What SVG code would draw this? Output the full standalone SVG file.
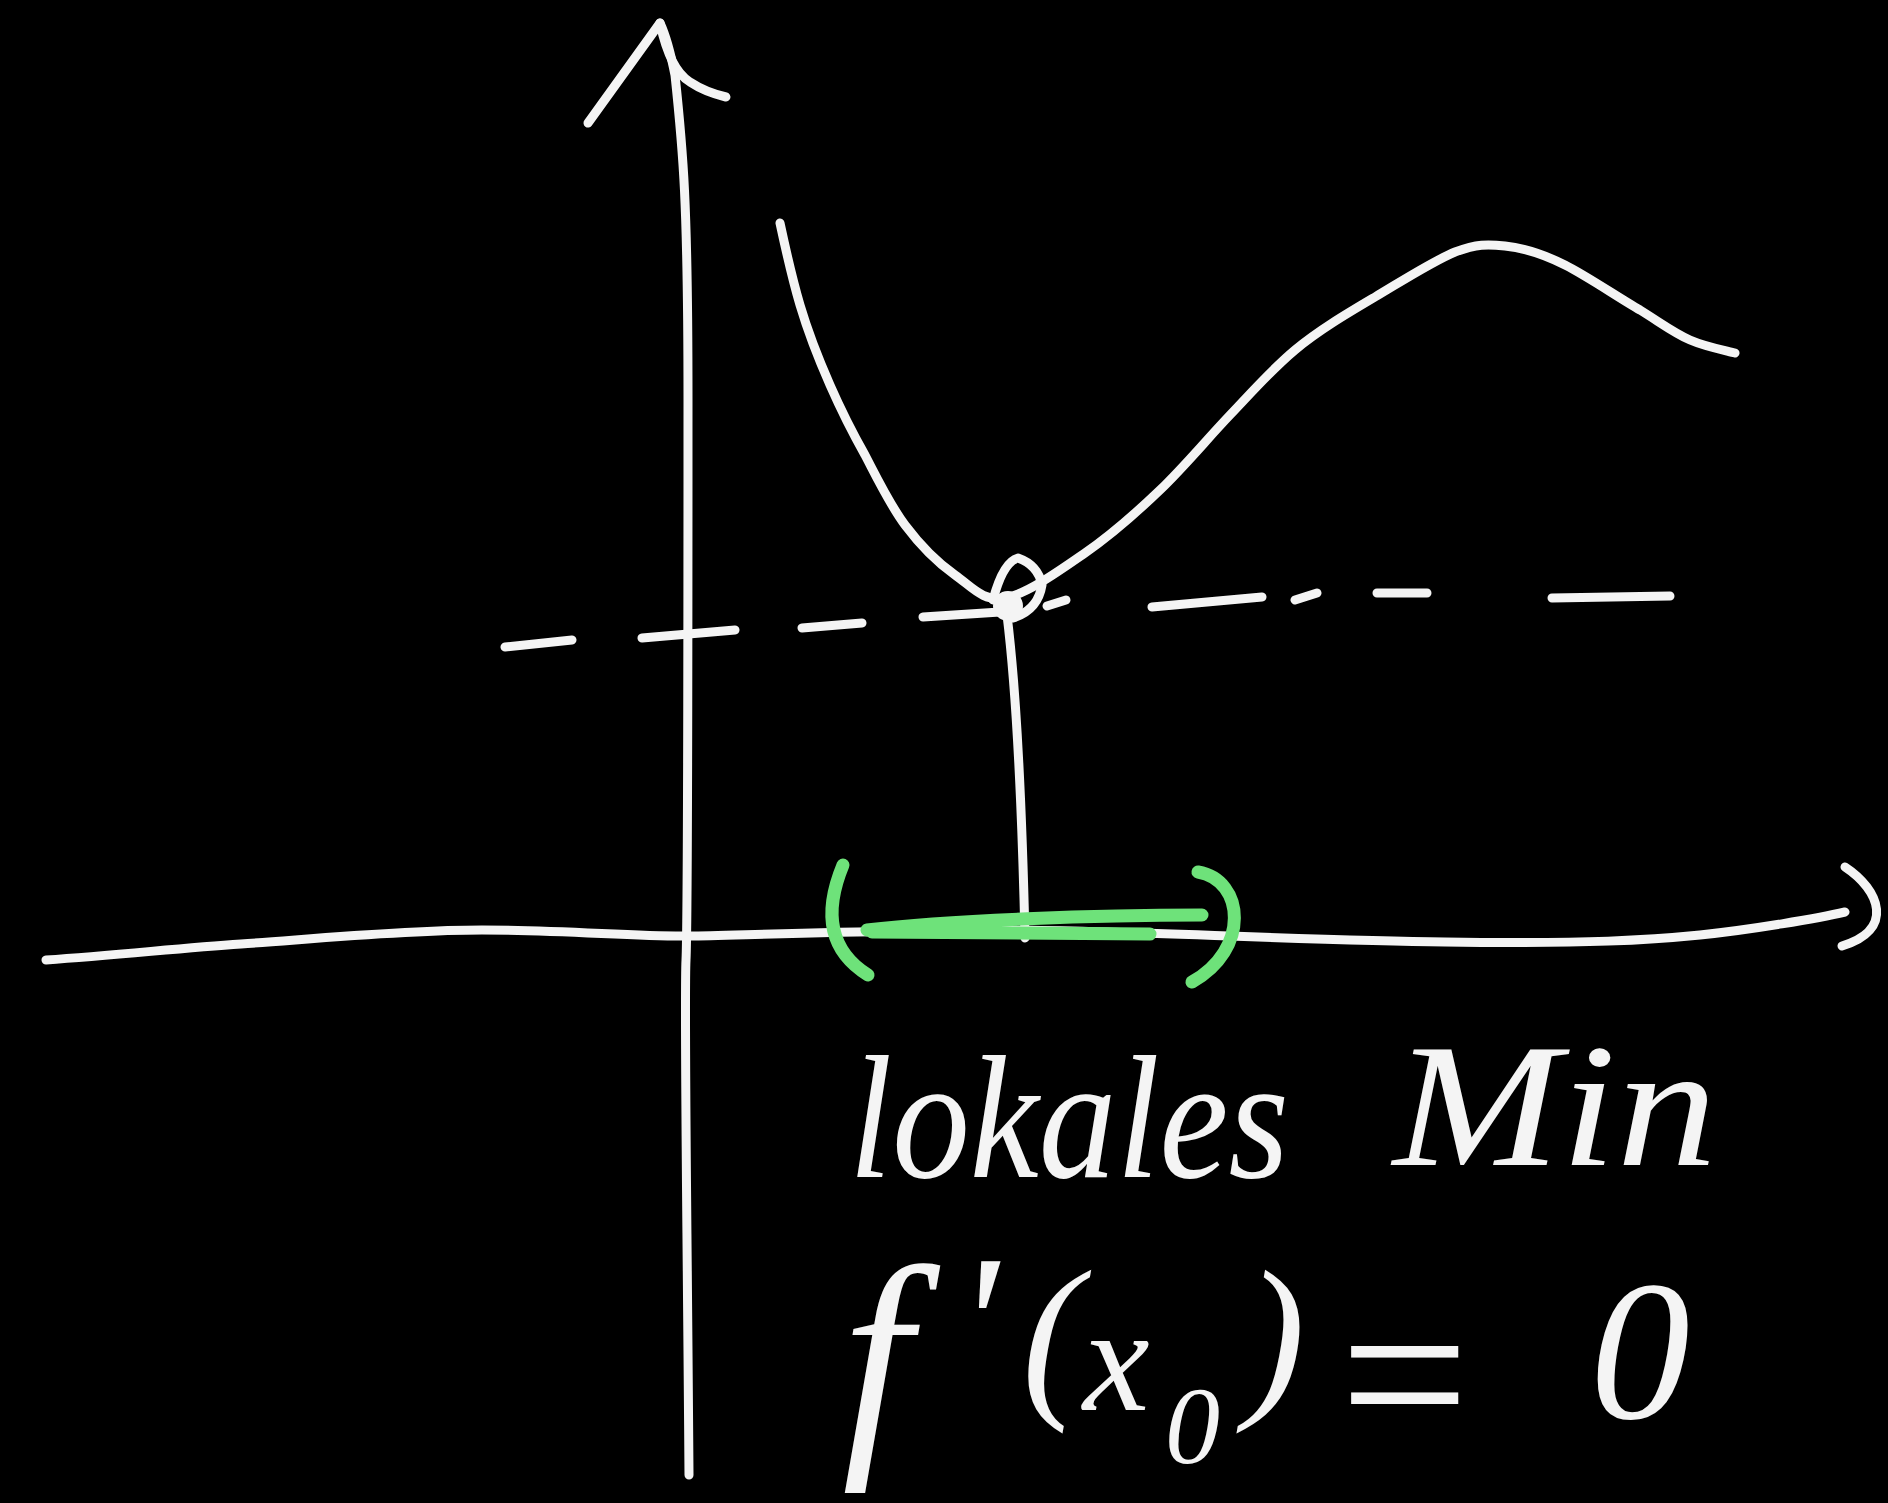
<svg xmlns="http://www.w3.org/2000/svg" width="1888" height="1503" viewBox="0 0 1888 1503">
<style>
.s{fill:none;stroke:#f4f4f4;stroke-width:9;stroke-linecap:round;stroke-linejoin:round}
.g{fill:none;stroke:#6ee27a;stroke-width:13;stroke-linecap:round;stroke-linejoin:round}
.t{fill:#f4f4f4;font-family:"Liberation Serif",serif;font-style:italic}
</style>
<rect width="1888" height="1503" fill="#000"/>
<g id="axes">
<path class="s" d="M46 960 C120 955 180 948 241 944 S400 930 482 930 S640 937 690 936 S900 930 1000 930 S1300 940 1445 942 S1650 940 1700 935 S1820 918 1845 912"/>
<path class="s" d="M1845 867 C1880 890 1895 930 1842 946"/>
<path class="s" d="M689 1475 C687 1200 684 1000 686 960 S688 600 688 400 S683 150 675 75 Q668 40 660 23"/>
<path class="s" d="M588 123 L660 23 Q670 70 690 82 Q705 92 726 97"/>
</g>
<g id="curve">
<path class="s" d="M780 223 C783 237 792 278 800 305 C808 332 819 360 830 385 C841 410 852 432 865 455 C877 478 890 505 905 525 C920 545 938 563 955 575 C972 587 983 602 1005 598 C1027 594 1059 571 1085 553 C1111 535 1136 513 1160 490 C1184 467 1208 438 1230 415 C1252 392 1271 370 1295 350 C1319 330 1348 313 1375 297 C1402 281 1433 261 1455 252 C1477 244 1487 244 1505 246 C1523 248 1543 254 1565 265 C1587 276 1619 298 1640 310 C1661 323 1674 333 1690 340 C1706 347 1728 351 1735 353"/>
</g>
<g id="min-point">
<circle cx="1008" cy="606" r="15" fill="#f4f4f4"/>
<path class="s" d="M993 600 Q1003 562 1018 558 Q1038 565 1042 585 Q1038 610 1013 618"/>
<path class="s" d="M1047 606 L1066 600"/>
<path class="s" d="M1007 615 Q1020 720 1025 938"/>
</g>
<g id="dashed-line">
<path class="s" d="M505 647 L572 640 M642 638 L735 630 M802 628 L862 623 M923 617 L1000 612 M1152 607 L1262 597 M1295 600 L1317 593 M1377 593 L1427 593 M1552 598 L1670 596"/>
</g>
<g id="interval">
<path class="g" d="M843 865 Q812 940 868 975"/>
<path class="g" d="M1198 872 C1245 880 1250 950 1192 982"/>
<path class="g" d="M867 930 C950 920 1100 915 1202 915 M872 932 L1150 934"/>
</g>
<g id="labels">
<text class="t" x="849" y="1177" font-size="175" textLength="440" lengthAdjust="spacingAndGlyphs">lokales</text>
<text class="t" x="1393" y="1165" font-size="175" textLength="324" lengthAdjust="spacingAndGlyphs">Min</text>
<text class="t"><tspan x="842" y="1440" font-size="250">f</tspan><tspan x="955" y="1392" font-size="200">'</tspan><tspan x="1022" y="1395" font-size="180">(</tspan><tspan x="1083" y="1410" font-size="150">x</tspan><tspan x="1165" y="1463" font-size="110">0</tspan><tspan x="1245" y="1395" font-size="180">)</tspan><tspan x="1325" y="1452" font-size="230">=</tspan><tspan x="1590" y="1418" font-size="200">0</tspan></text>
</g>
</svg>
